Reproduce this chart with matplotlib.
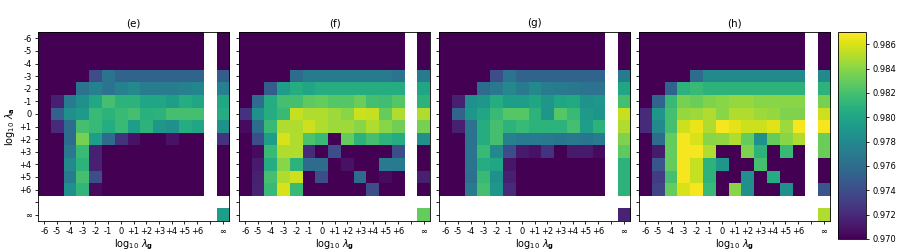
import numpy as np
import matplotlib
matplotlib.use("Agg")
import matplotlib.pyplot as plt

D = 0.968  # below colour range (darkest)

titles = ["(e)", "(f)", "(g)", "(h)"]
exp_labels = ["-6", "-5", "-4", "-3", "-2", "-1", "0", "+1", "+2", "+3", "+4", "+5", "+6"]

grid_e = [
    [D]*13,
    [D]*13,
    [D]*13,
    [D, D, D, D, .9740, .9765, .9755, .9755, .9755, .9755, .9755, .9755, .9755],
    [D, D, D, .9765, .9775, .9765, .9775, .9780, .9772, .9772, .9772, .9775, .9778],
    [D, .9715, .9770, .9785, .9802, .9820, .9810, .9810, .9800, .9800, .9795, .9805, .9800],
    [D, .9752, .9785, .9792, .9815, .9810, .9815, .9820, .9808, .9810, .9820, .9820, .9820],
    [D, .9720, .9760, .9820, .9815, .9805, .9815, .9795, .9810, .9790, .9785, .9805, .9800],
    [D, D, .9760, .9835, .9795, .9760, .9725, .9708, D, D, .9708, D, D],
    [D, D, .9768, .9815, .9715, D, D, D, D, D, D, D, D],
    [D, D, .9780, .9810, .9715, D, D, D, D, D, D, D, D],
    [D, D, .9770, .9820, .9740, D, D, D, D, D, D, D, D],
    [D, D, .9785, .9812, .9705, D, D, D, D, D, D, D, D],
]
infcol_e = [D, D, D, .9750, .9775, .9802, .9805, .9785, .9725, D, D, D, D]
infinf_e = .9795

grid_f = [
    [D]*13,
    [D]*13,
    [D]*13,
    [D, D, D, D, .9760, .9770, .9770, .9770, .9770, .9770, .9770, .9770, .9765],
    [D, D, .9750, .9795, .9805, .9800, .9805, .9805, .9805, .9805, .9805, .9805, .9805],
    [D, .9760, .9805, .9820, .9820, .9828, .9830, .9825, .9825, .9832, .9820, .9818, .9825],
    [.9725, .9785, .9805, .9815, .9855, .9850, .9850, .9845, .9840, .9857, .9855, .9830, .9850],
    [.9705, .9760, .9815, .9850, .9850, .9857, .9850, .9845, .9845, .9840, .9850, .9840, .9833],
    [D, .9740, .9795, .9860, .9850, .9822, .9815, D, .9830, .9810, .9820, .9810, .9805],
    [D, .9705, .9815, .9850, .9850, .9720, D, .9740, D, D, D, D, .9740],
    [D, .9712, .9805, .9840, .9810, .9760, .9760, D, .9708, D, D, .9770, .9770],
    [D, .9715, .9820, .9850, .9857, D, .9740, D, D, .9760, D, .9705, D],
    [D, .9717, .9815, .9860, .9815, D, D, D, D, D, .9740, D, D],
]
infcol_f = [D, D, D, .9770, .9800, .9810, .9850, .9835, .9785, D, D, .9715, D]
infinf_f = .9830

grid_g = [
    [D]*13,
    [D]*13,
    [D]*13,
    [D, D, D, D, .9740, .9765, .9755, .9755, .9755, .9755, .9755, .9755, .9755],
    [D, D, D, .9760, .9768, .9780, .9770, .9780, .9772, .9770, .9768, .9765, .9765],
    [D, .9715, .9785, .9790, .9805, .9795, .9795, .9800, .9790, .9800, .9803, .9787, .9790],
    [D, .9755, .9790, .9800, .9815, .9825, .9825, .9810, .9790, .9825, .9815, .9792, .9788],
    [D, .9715, .9765, .9805, .9820, .9810, .9815, .9810, .9810, .9810, .9820, .9795, .9810],
    [D, D, .9765, .9805, .9820, .9775, .9770, .9770, .9768, .9766, .9768, .9766, .9770],
    [D, D, .9765, .9815, .9780, .9740, .9712, .9708, .9725, D, .9712, .9712, .9705],
    [D, D, .9765, .9805, .9800, .9710, D, D, D, D, D, D, D],
    [D, D, .9762, .9815, .9785, .9715, D, D, D, D, D, D, D],
    [D, D, .9770, .9820, .9790, .9720, D, D, D, D, D, D, D],
]
infcol_g = [D, D, D, .9770, .9800, .9820, .9855, .9850, .9837, .9828, .9810, .9810, .9810]
infinf_g = .9717

grid_h = [
    [D]*13,
    [D]*13,
    [D]*13,
    [D, D, D, D, .9760, .9780, .9780, .9780, .9780, .9780, .9780, .9780, .9780],
    [D, D, .9755, .9810, .9815, .9810, .9810, .9810, .9810, .9810, .9810, .9810, .9810],
    [D, .9755, .9815, .9835, .9832, .9837, .9840, .9843, .9843, .9840, .9840, .9840, .9840],
    [.9720, .9790, .9820, .9843, .9845, .9850, .9840, .9850, .9850, .9845, .9843, .9837, .9837],
    [.9720, .9780, .9820, .9857, .9865, .9850, .9868, .9863, .9857, .9857, .9862, .9845, .9868],
    [D, .9760, .9830, .9868, .9860, .9840, .9842, .9850, .9830, .9785, .9830, .9840, .9850],
    [D, .9712, .9830, .9868, .9868, .9850, D, D, .9837, .9810, D, .9815, D],
    [D, .9745, .9830, .9868, .9855, .9810, .9790, D, D, .9820, D, D, D],
    [D, .9730, .9820, .9868, .9855, .9810, D, D, .9785, D, .9805, D, D],
    [D, .9735, .9830, .9860, .9868, .9815, D, .9840, .9785, D, D, .9785, D],
]
infcol_h = [D, D, D, .9780, .9810, .9835, .9857, .9868, .9832, .9832, D, D, .9745]
infinf_h = .9850

grids = [grid_e, grid_f, grid_g, grid_h]
infcols = [infcol_e, infcol_f, infcol_g, infcol_h]
infinfs = [infinf_e, infinf_f, infinf_g, infinf_h]

vmin, vmax = 0.970, 0.987
cmap = plt.get_cmap("viridis").copy()
cmap.set_bad("white")

W, H = 897, 252
fig = plt.figure(figsize=(W / 100, H / 100), dpi=100)

lefts = [38, 239, 439, 639]
ax_w, ax_top, ax_bot = 191, 32, 221
tick_labels = exp_labels + ["", "\u221e"]

im = None
for i, (grid, infcol, infinf) in enumerate(zip(grids, infcols, infinfs)):
    n = len(grid)
    M = np.full((n + 2, n + 2), np.nan)
    M[:n, :n] = np.array(grid)
    M[:n, n + 1] = np.array(infcol)
    M[n + 1, n + 1] = infinf
    ax = fig.add_axes([lefts[i] / W, (H - ax_bot) / H, ax_w / W, (ax_bot - ax_top) / H])
    im = ax.imshow(M, cmap=cmap, vmin=vmin, vmax=vmax, aspect="auto",
                   interpolation="nearest")
    ax.set_xticks(range(n + 2))
    ax.set_yticks(range(n + 2))
    ax.set_xticklabels(tick_labels, fontsize=6)
    if i == 0:
        ax.set_yticklabels(tick_labels, fontsize=6)
        ax.set_ylabel(r"log$_{10}$ $\lambda_\mathbf{a}$", fontsize=7, labelpad=2)
    else:
        ax.set_yticklabels([])
    ax.tick_params(length=2.5, width=0.6, pad=2)
    ax.set_xlabel(r"log$_{10}$ $\lambda_\mathbf{g}$", fontsize=7, labelpad=1)
    ax.set_title(titles[i], fontsize=7.5, pad=4)
    for s in ax.spines.values():
        s.set_linewidth(0.6)

cax = fig.add_axes([838 / W, (H - 239) / H, 28 / W, (239 - 32) / H])
cb = fig.colorbar(im, cax=cax)
cb.set_ticks([0.970, 0.972, 0.974, 0.976, 0.978, 0.980, 0.982, 0.984, 0.986])
cb.ax.set_yticklabels(["0.970", "0.972", "0.974", "0.976", "0.978", "0.980",
                       "0.982", "0.984", "0.986"])
cb.ax.tick_params(labelsize=6, length=2.5, width=0.6, pad=2)
cb.outline.set_linewidth(0.6)

fig.savefig("out.png", dpi=100)
